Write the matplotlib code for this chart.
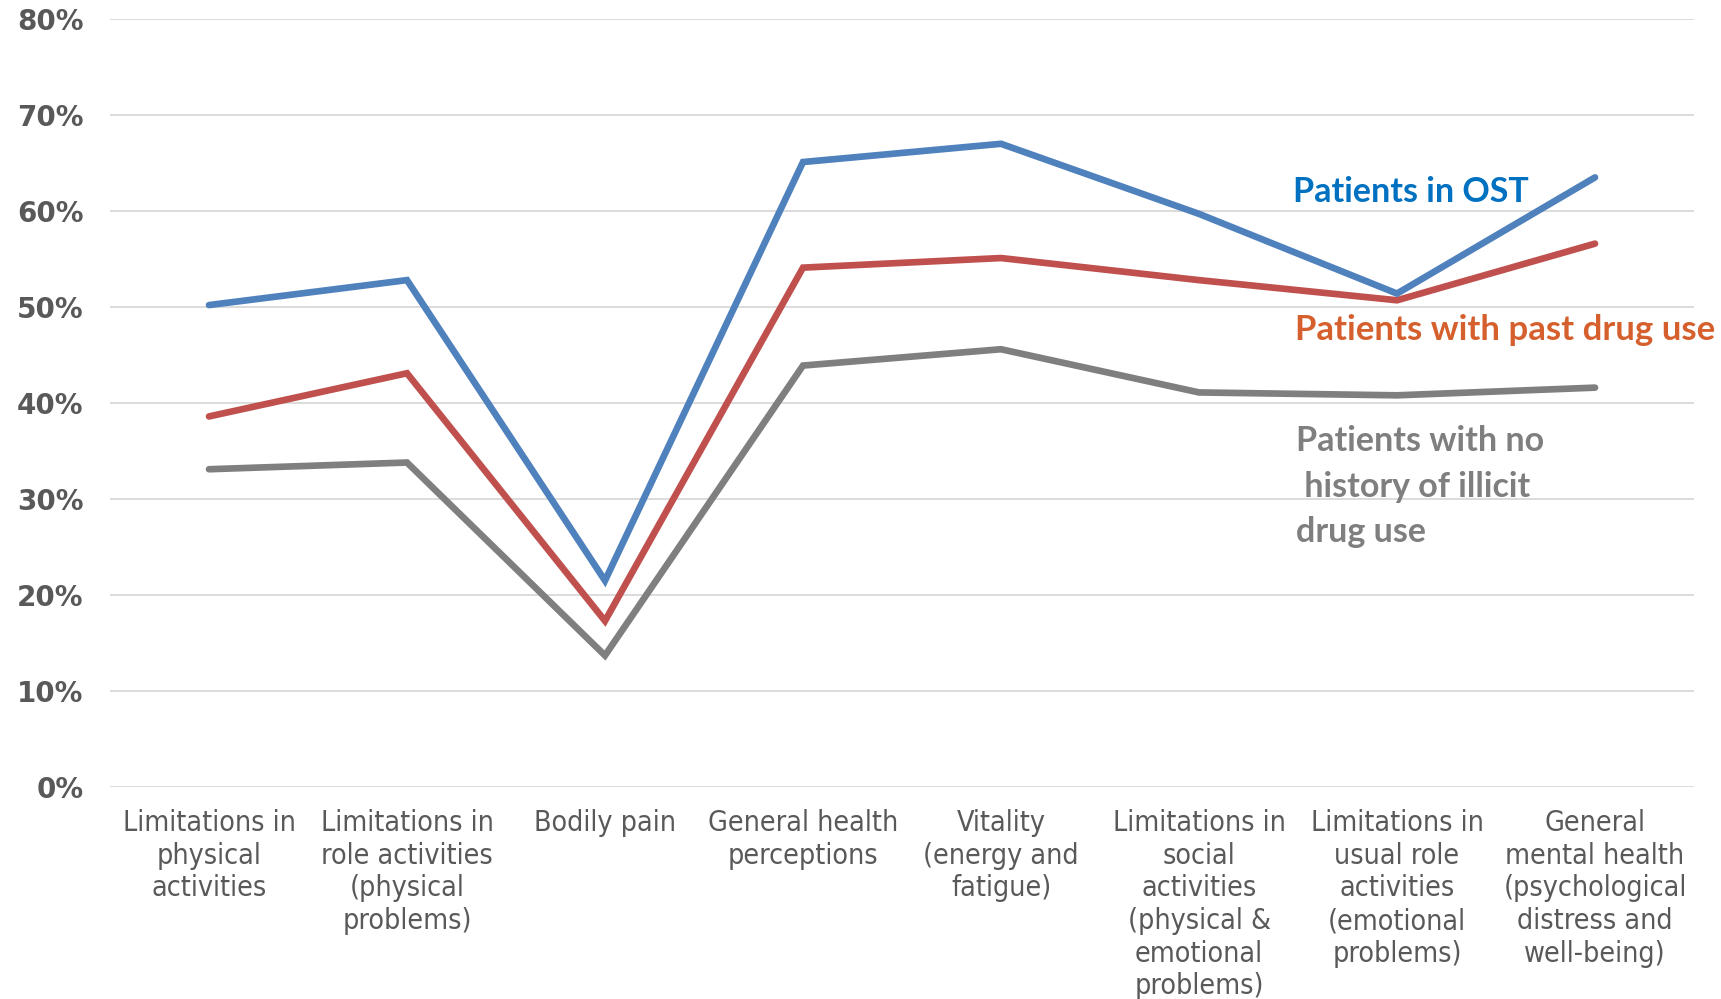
import matplotlib
matplotlib.use("Agg")
import matplotlib.pyplot as plt
from matplotlib.ticker import FuncFormatter, MultipleLocator

categories = [
    "Limitations in\nphysical\nactivities",
    "Limitations in\nrole activities\n(physical\nproblems)",
    "Bodily pain",
    "General health\nperceptions",
    "Vitality\n(energy and\nfatigue)",
    "Limitations in\nsocial\nactivities\n(physical &\nemotional\nproblems)",
    "Limitations in\nusual role\nactivities\n(emotional\nproblems)",
    "General\nmental health\n(psychological\ndistress and\nwell-being)",
]
ost = [50.2, 52.8, 21.5, 65.1, 67.0, 59.7, 51.4, 63.5]
past_use = [38.6, 43.1, 17.3, 54.1, 55.1, 52.8, 50.7, 56.6]
no_history = [33.1, 33.8, 13.7, 43.9, 45.6, 41.1, 40.8, 41.6]

W, H = 1721, 999
fig = plt.figure(figsize=(W / 100, H / 100), dpi=100)
ax = fig.add_axes([110 / W, 1 - 787 / H, (1694 - 110) / W, (787 - 19) / H])

x = list(range(len(categories)))
lw = 4.8
ax.plot(x, no_history, color="#7F7F7F", lw=lw, solid_capstyle="round", solid_joinstyle="miter", zorder=3)
ax.plot(x, past_use, color="#C0504D", lw=lw, solid_capstyle="round", solid_joinstyle="miter", zorder=4)
ax.plot(x, ost, color="#4F81BD", lw=lw, solid_capstyle="round", solid_joinstyle="miter", zorder=5)

ax.set_xlim(-0.5, 7.5)
ax.set_ylim(0, 80)
ax.yaxis.set_major_locator(MultipleLocator(10))
ax.yaxis.set_major_formatter(FuncFormatter(lambda v, p: f"{int(round(v))}%"))
ax.grid(axis="y", color="#D9D9D9", lw=1.3, zorder=0)
ax.set_axisbelow(True)
for s in ax.spines.values():
    s.set_visible(False)
ax.tick_params(axis="both", length=0)
ax.tick_params(axis="y", pad=19)
ax.tick_params(axis="x", pad=16)

ax.set_xticks(x)
ax.set_xticklabels(categories, fontsize=20.5, color="#595959", linespacing=1.21,
                   family="DejaVu Sans", fontstretch="condensed", va="top")
for lab in ax.get_yticklabels():
    lab.set_fontsize(20)
    lab.set_fontweight("bold")
    lab.set_color("#595959")
    lab.set_family("DejaVu Sans")

ax.text(5.475, 62.0, "Patients in OST", color="#0070C0", fontsize=24.5,
        fontweight="bold", family="Lato", ha="left", va="center")
ax.text(5.485, 47.65, "Patients with past drug use", color="#D5602E", fontsize=25,
        fontweight="bold", family="Lato", ha="left", va="center")
ax.text(5.49, 31.3, "Patients with no\n history of illicit\ndrug use", color="#7F7F7F",
        fontsize=24.5, fontweight="bold", family="Lato", ha="left", va="center",
        linespacing=1.52)

fig.savefig("out.png", dpi=100)
